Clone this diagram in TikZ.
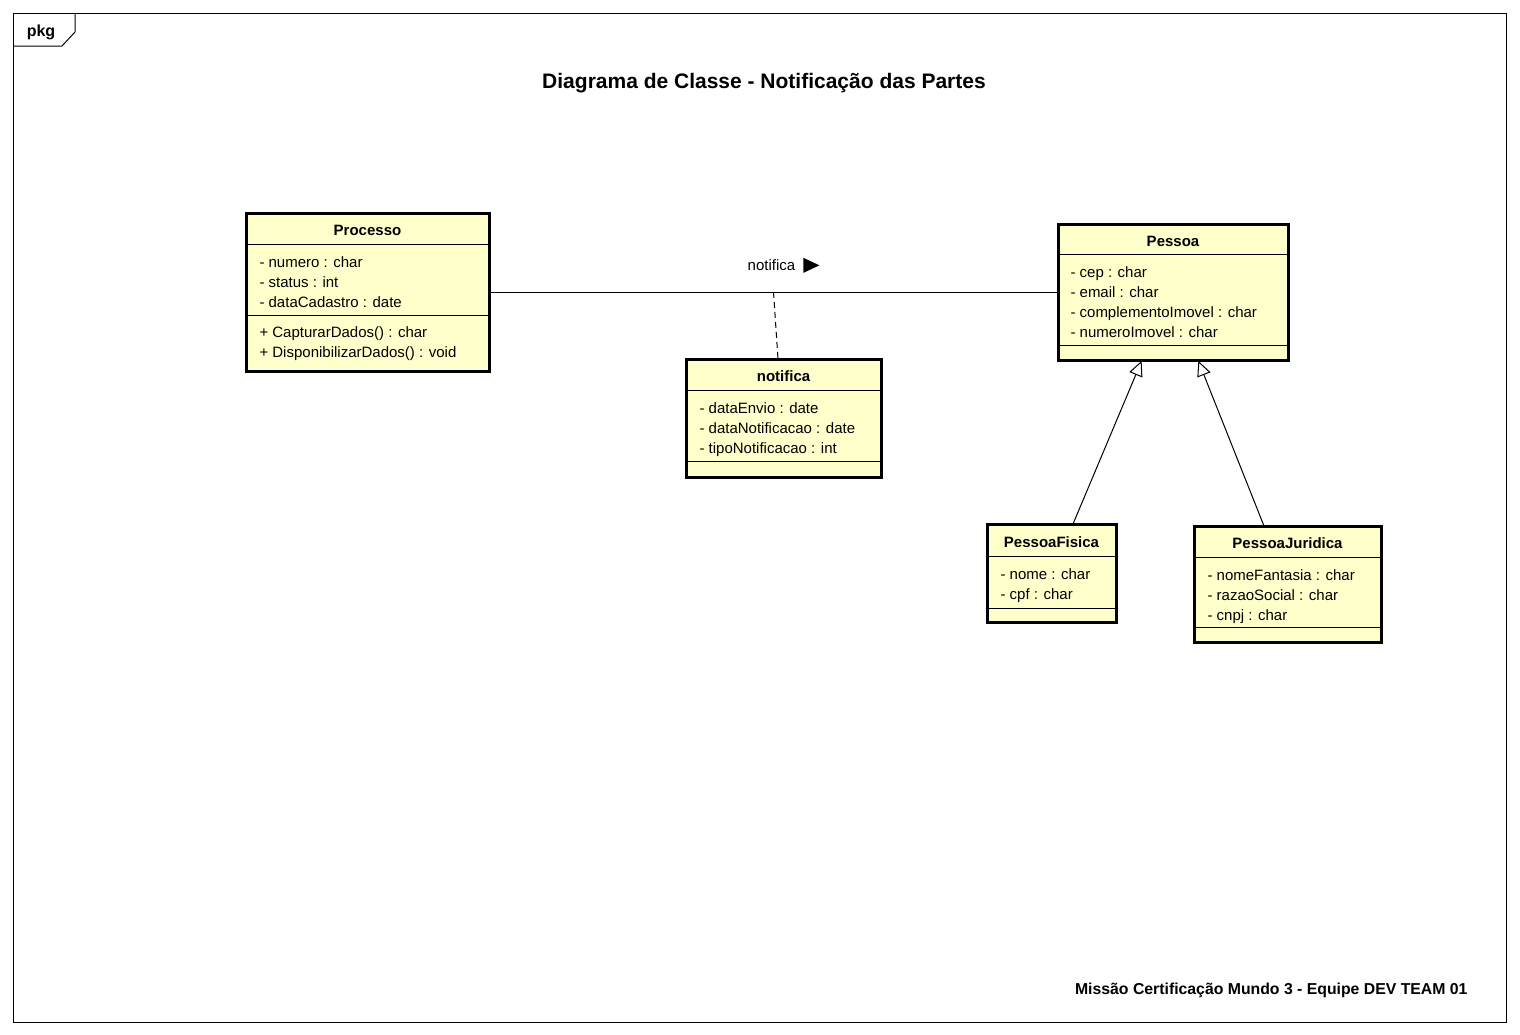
\documentclass[tikz,border=0pt]{standalone}
\usepackage{fontspec}
\setmainfont{Liberation Sans}
\usepackage{tikz}
\usetikzlibrary{positioning,arrows.meta}
\definecolor{classfill}{RGB}{255,255,204}
\tikzset{
  classbox/.style={draw,line width=1.5pt,fill=classfill,anchor=north west,inner sep=0pt,outer sep=0pt},
  classname/.style={font=\fontsize{7.5}{9}\selectfont\bfseries,anchor=base,inner sep=0pt},
  members/.style={font=\fontsize{7.5}{10}\selectfont,align=left,anchor=north west,inner sep=0pt},
  sepline/.style={line width=0.5pt},
  gen/.style={-{Triangle[open,fill=white,length=7.5pt,width=7pt]},line width=0.5pt,shorten >=0.5pt},
}
\begin{document}
\begin{tikzpicture}[x=0.5pt,y=-0.5pt,line width=0.5pt,font=\fontsize{7.5}{9}\selectfont]
            \useasboundingbox (0,0) rectangle (1520,1034);
            % frame
            \draw (13,13) rectangle (1506,1022);
            \draw (13,46) -- (62,46) -- (75,32) -- (75,13);
            \node[font=\fontsize{8}{9}\selectfont\bfseries,anchor=base] (pkg) at (41,36) {pkg};
            \node[font=\fontsize{10.5}{12}\selectfont\bfseries,anchor=base] (title) at (764,88) {Diagrama de Classe - Notificação das Partes};
            \node[font=\fontsize{7.9}{9}\selectfont\bfseries,anchor=base east,inner sep=0pt] (footer) at (1468,994) {Missão Certificação Mundo 3 - Equipe DEV TEAM 01};
            % Processo
            \node[classbox,minimum width=121.5pt,minimum height=79pt] (processo) at (246,213) {};
            \node[classname] (processoname) at ([shift={(0,22)}]processo.north) {Processo};
            \draw[sepline] ([shift={(0,31)}]processo.north west) -- ([shift={(0,31)}]processo.north east)
                           ([shift={(0,102)}]processo.north west) -- ([shift={(0,102)}]processo.north east);
            \node[members] (processoattr) at ([shift={(13,43)}]processo.north west) {- numero : char\\- status : int\\- dataCadastro : date};
            \node[members] (processoops) at ([shift={(13,113)}]processo.north west) {+ CapturarDados() : char\\+ DisponibilizarDados() : void};
            % notifica
            \node[classbox,minimum width=97.5pt,minimum height=59pt] (notifica) at (686,359) {};
            \node[classname] (notificaname) at ([shift={(0,22)}]notifica.north) {notifica};
            \draw[sepline] ([shift={(0,31)}]notifica.north west) -- ([shift={(0,31)}]notifica.north east)
                           ([shift={(0,102)}]notifica.north west) -- ([shift={(0,102)}]notifica.north east);
            \node[members] (notificaattr) at ([shift={(13,43)}]notifica.north west) {- dataEnvio : date\\- dataNotificacao : date\\- tipoNotificacao : int};
            % Pessoa
            \node[classbox,minimum width=115pt,minimum height=68pt] (pessoa) at (1058,224) {};
            \node[classname] (pessoaname) at ([shift={(0,22)}]pessoa.north) {Pessoa};
            \draw[sepline] ([shift={(0,30)}]pessoa.north west) -- ([shift={(0,30)}]pessoa.north east)
                           ([shift={(0,121)}]pessoa.north west) -- ([shift={(0,121)}]pessoa.north east);
            \node[members] (pessoaattr) at ([shift={(12,42)}]pessoa.north west) {- cep : char\\- email : char\\- complementoImovel : char\\- numeroImovel : char};
            % PessoaFisica
            \node[classbox,minimum width=64.5pt,minimum height=49pt] (fisica) at (987,524) {};
            \node[classname] (fisicaname) at ([shift={(0,23)}]fisica.north) {PessoaFisica};
            \draw[sepline] ([shift={(0,32)}]fisica.north west) -- ([shift={(0,32)}]fisica.north east)
                           ([shift={(0,84)}]fisica.north west) -- ([shift={(0,84)}]fisica.north east);
            \node[members] (fisicaattr) at ([shift={(13,44)}]fisica.north west) {- nome : char\\- cpf : char};
            % PessoaJuridica
            \node[classbox,minimum width=93.5pt,minimum height=58pt] (juridica) at (1194,526) {};
            \node[classname] (juridicaname) at ([shift={(0,22)}]juridica.north) {PessoaJuridica};
            \draw[sepline] ([shift={(0,31)}]juridica.north west) -- ([shift={(0,31)}]juridica.north east)
                           ([shift={(0,101)}]juridica.north west) -- ([shift={(0,101)}]juridica.north east);
            \node[members] (juridicaattr) at ([shift={(13,43)}]juridica.north west) {- nomeFantasia : char\\- razaoSocial : char\\- cnpj : char};
            % relations
            \draw (processo) -- node[above=7pt,xshift=-1pt] (assoclabel) {notifica} coordinate[pos=0.5] (assocmid) (pessoa);
            \fill ([xshift=0.5pt]assoclabel.east) ++(0,-7.5) -- ++(16,7.5) -- ++(-16,7.5) -- cycle;
            \draw[dash pattern=on 3pt off 2pt] (assocmid) -- ([xshift=-2.75pt]notifica.north);
            \draw[gen] ([xshift=10.75pt]fisica.north) -- ([xshift=-15.5pt]pessoa.south);
            \draw[gen] ([xshift=-11.75pt]juridica.north) -- ([xshift=12.5pt]pessoa.south);
\end{tikzpicture}
\end{document}
